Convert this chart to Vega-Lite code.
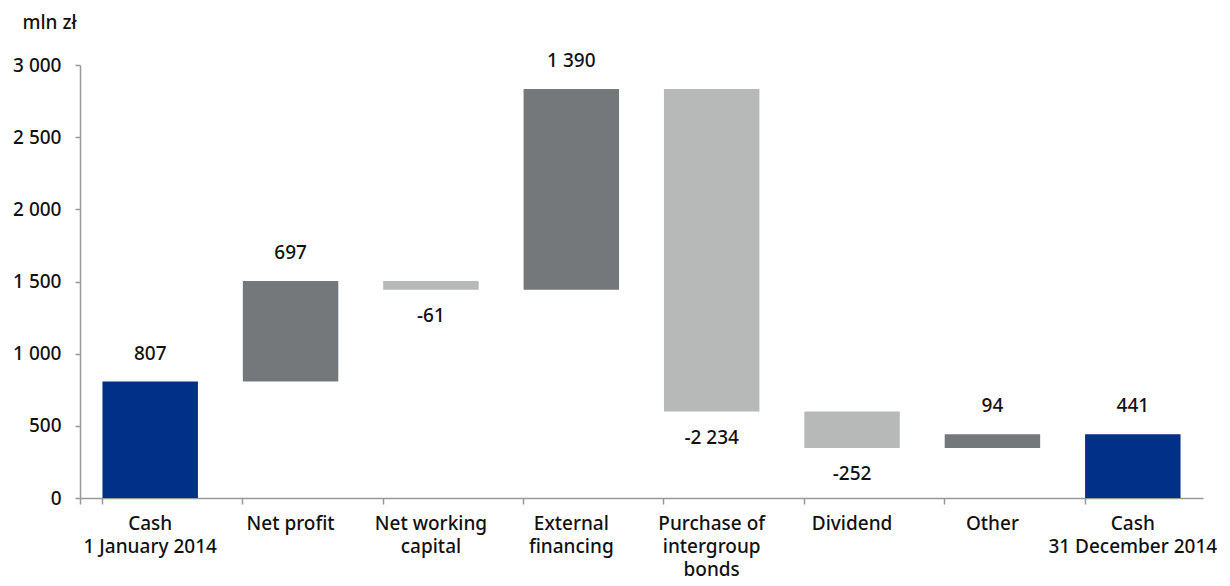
{
  "$schema": "https://vega.github.io/schema/vega-lite/v6.json",
  "width": 1123,
  "height": 433,
  "autosize": {"type": "none"},
  "padding": {"left": 80, "top": 65, "right": 27, "bottom": 88},
  "config": {
    "locale": {"number": {"decimal": ",", "thousands": " ", "grouping": [3], "currency": ["", ""], "minus": "-"}},
    "view": {"stroke": null},
    "font": "Noto Sans",
    "axis": {"labelFont": "Noto Sans", "titleFont": "Noto Sans", "labelFontSize": 19, "labelFontWeight": 500, "labelColor": "#111", "domainColor": "#999", "tickColor": "#999", "domainWidth": 1.5, "tickWidth": 1.5}
  },
  "data": {
    "values": [
      {"category": "Cash|1 January 2014", "start": 0, "end": 807, "value": 807, "kind": "total"},
      {"category": "Net profit", "start": 807, "end": 1504, "value": 697, "kind": "increase"},
      {"category": "Net working|capital", "start": 1504, "end": 1443, "value": -61, "kind": "decrease"},
      {"category": "External|financing", "start": 1443, "end": 2833, "value": 1390, "kind": "increase"},
      {"category": "Purchase of|intergroup|bonds", "start": 2833, "end": 599, "value": -2234, "kind": "decrease"},
      {"category": "Dividend", "start": 599, "end": 347, "value": -252, "kind": "decrease"},
      {"category": "Other", "start": 347, "end": 441, "value": 94, "kind": "increase"},
      {"category": "Cash|31 December 2014", "start": 0, "end": 441, "value": 441, "kind": "total"}
    ]
  },
  "encoding": {
    "x": {
      "field": "category", "type": "nominal", "sort": null,
      "scale": {"paddingInner": 0.32, "paddingOuter": 0.16},
      "axis": {"title": null, "labelAngle": 0, "labelExpr": "split(datum.label, '|')", "labelLineHeight": 23, "tickSize": 6, "bandPosition": 0, "tickExtra": true, "labelPadding": 10, "labelBaseline": "top"}
    }
  },
  "layer": [
    {
      "mark": {"type": "bar"},
      "encoding": {
        "y": {
          "field": "start", "type": "quantitative",
          "scale": {"domain": [0, 3000], "nice": false},
          "axis": {"values": [0, 500, 1000, 1500, 2000, 2500, 3000], "format": ",d", "grid": false, "tickSize": 5, "labelPadding": 14, "title": "mln zł", "titleAngle": 0, "titleX": -58, "titleY": -43, "titleAlign": "left", "titleBaseline": "middle", "titleFontWeight": 500, "titleFontSize": 19, "titleColor": "#111"}
        },
        "y2": {"field": "end"},
        "color": {
          "field": "kind", "type": "nominal",
          "scale": {"domain": ["total", "increase", "decrease"], "range": ["#003087", "#75787b", "#b7b8b8"]},
          "legend": null
        }
      }
    },
    {
      "transform": [{"filter": "datum.value >= 0"}],
      "mark": {"type": "text", "baseline": "middle", "dy": -28, "fontSize": 19, "fontWeight": 500, "color": "#111", "font": "Noto Sans"},
      "encoding": {
        "y": {"field": "end", "type": "quantitative"},
        "text": {"field": "value", "type": "quantitative", "format": ",d"}
      }
    },
    {
      "transform": [{"filter": "datum.value < 0"}],
      "mark": {"type": "text", "baseline": "middle", "dy": 26, "fontSize": 19, "fontWeight": 500, "color": "#111", "font": "Noto Sans"},
      "encoding": {
        "y": {"field": "end", "type": "quantitative"},
        "text": {"field": "value", "type": "quantitative", "format": ",d"}
      }
    }
  ]
}
